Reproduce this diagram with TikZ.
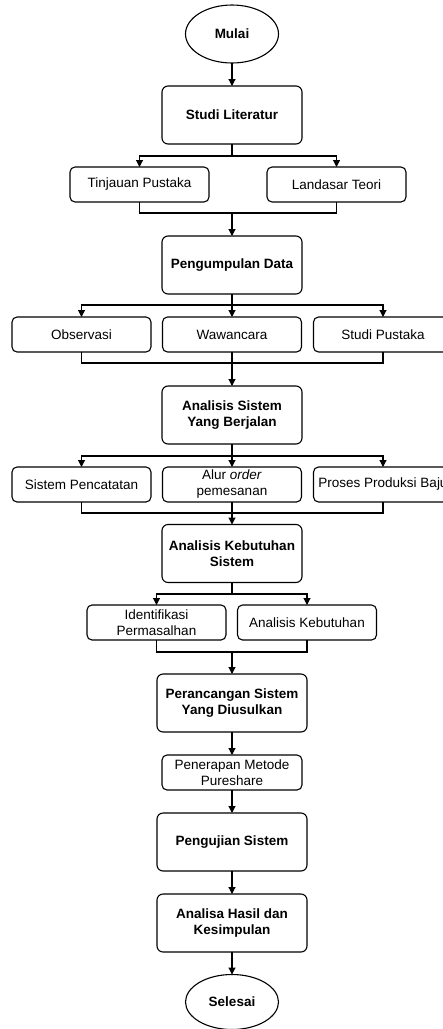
\documentclass[tikz,border=0pt]{standalone}
\usepackage{fontspec}
\setmainfont{Liberation Sans}
\usetikzlibrary{shapes.geometric,arrows.meta}
\begin{document}
\begin{tikzpicture}[x=1pt,y=-1pt,
  every node/.style={inner sep=0pt, outer sep=0pt, align=center, font=\fontsize{13.5}{16}\selectfont},
  bigbox/.style={draw, line width=1.1pt, rounded corners=6pt, minimum width=140pt, minimum height=58pt, font=\fontsize{13.5}{16}\selectfont\bfseries},
  widebox/.style={bigbox, minimum width=150pt},
  smallbox/.style={draw, line width=1.1pt, rounded corners=5pt, minimum width=139pt, minimum height=35pt},
  term/.style={draw, ellipse, line width=1.1pt, minimum width=93pt, minimum height=58pt, font=\fontsize{13.5}{16}\selectfont\bfseries},
  ln/.style={line width=1.1pt},
  arr/.style={line width=1.1pt, -{Triangle[length=7pt,width=7pt]}}
]
\clip (0,0) rectangle (443,1029);
\useasboundingbox (0,0) rectangle (443,1029);

\node[term] (mulai) at (232,34) {Mulai};
\node[bigbox] (sl) at (232,115) {Studi Literatur};
\node[smallbox] (tp) at (139.5,184.5) {Tinjauan Pustaka};
\node[smallbox] (lt) at (336.5,184.5) {Landasar Teori};
\node[bigbox] (pd) at (232,265) {Pengumpulan Data};
\node[smallbox] (obs) at (81.5,334.5) {Observasi};
\node[smallbox] (ww) at (232,334.5) {Wawancara};
\node[smallbox] (sp) at (383,334.5) {Studi Pustaka};
\node[bigbox] (asb) at (232,415) {Analisis Sistem\\Yang Berjalan};
\node[smallbox] (spc) at (81.5,484.5) {Sistem Pencatatan};
\node[smallbox] (alur) at (232,484.5) {Alur \textit{order}\\pemesanan};
\node[smallbox] (ppb) at (383,484.5) {Proses Produksi Baju};
\node[bigbox] (aks) at (232,553.5) {Analisis Kebutuhan\\Sistem};
\node[smallbox] (ip) at (156.5,622.5) {Identifikasi\\Permasalhan};
\node[smallbox] (ak) at (307,622.5) {Analisis Kebutuhan};
\node[widebox] (psy) at (232,703) {Perancangan Sistem\\Yang Diusulkan};
\node[smallbox, minimum width=140pt] (pmp) at (232,772.5) {Penerapan Metode\\Pureshare};
\node[widebox] (ps) at (232,842) {Pengujian Sistem};
\node[widebox] (ah) at (232,923) {Analisa Hasil dan\\Kesimpulan};
\node[term, minimum height=55pt] (sel) at (232,1002) {Selesai};

% coordinates for branch and merge points
\coordinate (b1) at (232,156);
\coordinate (m1) at (232,213);
\coordinate (b2) at (232,305);
\coordinate (m2) at (232,363);
\coordinate (b3) at (232,456);
\coordinate (m3) at (232,513);
\coordinate (b4) at (232,594);
\coordinate (m4) at (232,652);

\draw[arr] (mulai) -- (sl);

\draw[ln] (sl) -- (b1);
\draw[arr] (b1) -| (tp);
\draw[arr] (b1) -| (lt);
\draw[ln] (tp.south) |- (m1);
\draw[ln] (lt.south) |- (m1);
\draw[arr] (m1) -- (pd);

\draw[ln] (pd) -- (b2);
\draw[arr] (b2) -| (obs);
\draw[arr] (b2) -- (ww);
\draw[arr] (b2) -| (sp);
\draw[ln] (obs.south) |- (m2);
\draw[ln] (sp.south) |- (m2);
\draw[ln] (ww) -- (m2);
\draw[arr] (m2) -- (asb);

\draw[ln] (asb) -- (b3);
\draw[arr] (b3) -| (spc);
\draw[arr] (b3) -- (alur);
\draw[arr] (b3) -| (ppb);
\draw[ln] (spc.south) |- (m3);
\draw[ln] (ppb.south) |- (m3);
\draw[ln] (alur) -- (m3);
\draw[arr] (m3) -- (aks);

\draw[ln] (aks) -- (b4);
\draw[arr] (b4) -| (ip);
\draw[arr] (b4) -| (ak);
\draw[ln] (ip.south) |- (m4);
\draw[ln] (ak.south) |- (m4);
\draw[arr] (m4) -- (psy);

\draw[arr] (psy) -- (pmp);
\draw[arr] (pmp) -- (ps);
\draw[arr] (ps) -- (ah);
\draw[arr] (ah) -- (sel);
\end{tikzpicture}
\end{document}
